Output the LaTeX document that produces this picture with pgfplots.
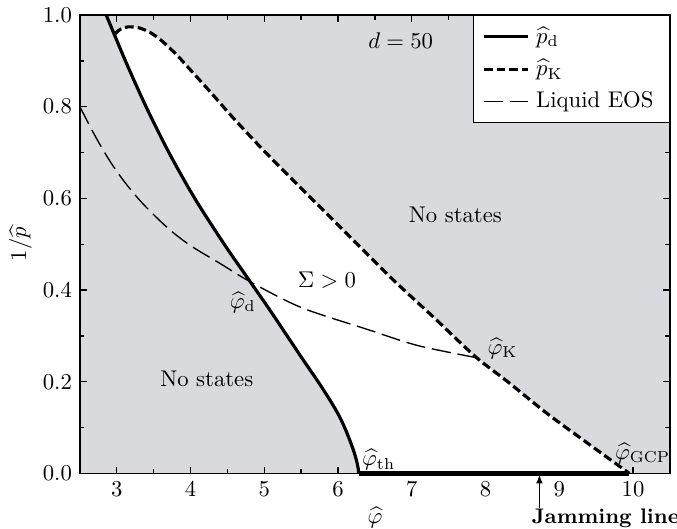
\documentclass[border=0pt]{standalone}
\usepackage{pgfplots}
\pgfplotsset{compat=1.18}
\usetikzlibrary{arrows.meta}
\definecolor{bggray}{RGB}{217,218,221}

\begin{document}
\begin{tikzpicture}
\begin{axis}[
  scale only axis,
  width=260pt, height=202pt,
  xmin=2.5, xmax=10.5, ymin=0, ymax=1,
  xtick={3,4,...,10},
  minor xtick={2.5,3.5,...,10.5},
  ytick={0,0.2,...,1.0},
  minor ytick={0.1,0.3,...,0.9},
  yticklabel style={/pgf/number format/.cd,fixed,fixed zerofill,precision=1},
  major tick length=3pt, minor tick length=2pt,
  tick style={black, line width=0.6pt},
  axis line style={line width=0.6pt},
  axis background/.style={fill=bggray},
  xlabel={$\widehat{\varphi}$},
  ylabel={$1/\widehat{p}$},
  xlabel style={yshift=2pt},
  ylabel style={yshift=-2pt},
  clip=false,
  legend image code/.code={\draw[#1] (0cm,0cm) -- (0.68cm,0cm);},
  legend style={at={(rel axis cs:1,1)}, anchor=north east,
    draw=black, line width=0.5pt, fill=white, cells={anchor=west},
    row sep=1.6pt, inner xsep=4pt, inner ysep=3pt,
    nodes={inner xsep=3pt}},
  legend cell align=left,
]
% region with Sigma > 0: bounded by p_d, p_K and the jamming line
\addplot[fill=white, draw=none, forget plot] coordinates {
  (2.967,0.958) (3.117,0.900) (3.397,0.800) (3.707,0.700) (4.057,0.600)
  (4.457,0.500) (4.810,0.418) (5.060,0.360) (5.310,0.300) (5.530,0.247)
  (5.730,0.200) (5.890,0.160) (6.000,0.130) (6.090,0.100) (6.165,0.070)
  (6.220,0.045) (6.255,0.025) (6.274,0.010) (6.280,0.000) (9.950,0.000)
  (9.40,0.064) (8.84,0.130) (8.30,0.200) (7.86,0.255) (7.30,0.340)
  (6.71,0.428) (6.07,0.531) (5.50,0.622) (5.00,0.703) (4.57,0.777)
  (4.28,0.830) (3.96,0.887) (3.80,0.915) (3.60,0.945) (3.45,0.962)
  (3.30,0.972) (3.15,0.974) (3.05,0.969) (2.967,0.958)
} -- cycle;

% dynamical transition p_d
\addplot[black, line width=1.4pt, smooth] coordinates {
  (2.857,1.000) (3.117,0.900) (3.397,0.800) (3.707,0.700) (4.057,0.600)
  (4.457,0.500) (4.810,0.418) (5.060,0.360) (5.310,0.300) (5.530,0.247)
  (5.730,0.200) (5.890,0.160) (6.000,0.130) (6.090,0.100) (6.165,0.070)
  (6.220,0.045) (6.255,0.025) (6.274,0.010) (6.280,0.000)
};
\addlegendentry{$\widehat{p}_{\mathrm{d}}$}

% Kauzmann transition p_K
\addplot[black, line width=1.4pt, smooth, dash pattern=on 3.8pt off 1.8pt] coordinates {
  (2.97,0.958) (3.05,0.969) (3.15,0.974) (3.30,0.972) (3.45,0.962)
  (3.60,0.945) (3.80,0.915) (3.96,0.887) (4.28,0.830) (4.57,0.777)
  (5.00,0.703) (5.50,0.622) (6.07,0.531) (6.71,0.428) (7.30,0.340)
  (7.86,0.255) (8.30,0.200) (8.84,0.130) (9.40,0.064) (9.95,0.000)
};
\addlegendentry{$\widehat{p}_{\mathrm{K}}$}

% liquid equation of state
\addplot[black, line width=0.6pt, smooth, dash pattern=on 8.5pt off 3pt] coordinates {
  (2.50,0.800) (2.70,0.738) (2.90,0.683) (3.10,0.637) (3.35,0.589)
  (3.68,0.537) (3.99,0.498) (4.40,0.458) (4.81,0.418) (5.50,0.362)
  (6.40,0.314) (7.08,0.279) (7.86,0.253)
};
\addlegendentry{Liquid EOS}

% jamming line
\addplot[black, line width=2pt, forget plot] coordinates {(6.28,0) (9.95,0)};

\node at (axis cs:6.85,0.945) {$d=50$};
\node at (axis cs:7.59,0.563) {No states};
\node at (axis cs:4.22,0.207) {No states};
\node at (axis cs:5.85,0.421) {$\Sigma>0$};
\node at (axis cs:4.71,0.373) {$\widehat{\varphi}_{\mathrm{d}}$};
\node at (axis cs:8.23,0.273) {$\widehat{\varphi}_{\mathrm{K}}$};
\node at (axis cs:6.55,0.030) {$\widehat{\varphi}_{\mathrm{th}}$};
\node at (axis cs:10.13,0.044) {$\widehat{\varphi}_{\mathrm{GCP}}$};

\draw[-{Latex[length=4pt,width=3pt]}, line width=0.8pt]
  (axis cs:8.73,-0.075) -- (axis cs:8.73,-0.002);
\node[font=\fontsize{9.3}{11}\selectfont\bfseries, anchor=west, inner sep=0pt]
  at (axis cs:8.62,-0.098) {Jamming line};

\coordinate (sw) at (rel axis cs:0,0);
\coordinate (ne) at (rel axis cs:1,1);
\end{axis}
\pgfresetboundingbox
\path ([shift={(-35.2pt,-24.2pt)}]sw) rectangle ([shift={(3.1pt,6.6pt)}]ne);
\end{tikzpicture}
\end{document}
